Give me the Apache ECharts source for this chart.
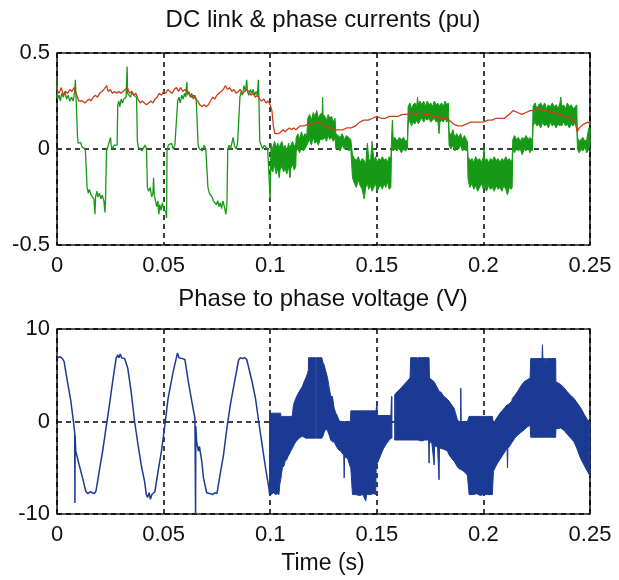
<!DOCTYPE html>
<html>
<head>
<meta charset="utf-8">
<title>DC link & phase currents / phase to phase voltage</title>
<script src="https://cdn.jsdelivr.net/npm/echarts@6/dist/echarts.min.js"></script>
<style>
  html, body { margin: 0; padding: 0; background: #fff; }
  #chart { width: 619px; height: 580px; }
</style>
</head>
<body>
<div id="chart"></div>
<script>
// ---- tick labels ----
const xTickLabels = ['0', '0.05', '0.1', '0.15', '0.2', '0.25'];
const currentTickLabels = ['-0.5', '0', '0.5'];
const voltageTickLabels = ['-10', '0', '10'];

// ---- DC link current (pu), [time s, value] ----
const dcLinkCurrent = [
  [0, 0.31], [0.001, 0.29], [0.002, 0.32], [0.003, 0.28], [0.004, 0.3], [0.005, 0.29], [0.006, 0.31],
  [0.007, 0.3], [0.008, 0.32], [0.009, 0.29], [0.0102, 0.25], [0.011, 0.24], [0.012, 0.25], [0.013, 0.24],
  [0.014, 0.25], [0.015, 0.26], [0.016, 0.25], [0.017, 0.27], [0.018, 0.28], [0.019, 0.27], [0.02, 0.29],
  [0.021, 0.3], [0.022, 0.31], [0.0233, 0.33], [0.024, 0.3], [0.025, 0.31], [0.026, 0.29], [0.027, 0.3],
  [0.028, 0.29], [0.029, 0.3], [0.03, 0.29], [0.031, 0.3], [0.032, 0.31], [0.033, 0.32], [0.034, 0.29],
  [0.035, 0.3], [0.036, 0.28], [0.037, 0.29], [0.038, 0.26], [0.039, 0.24], [0.04, 0.25], [0.041, 0.24],
  [0.042, 0.23], [0.043, 0.24], [0.044, 0.25], [0.045, 0.24], [0.046, 0.26], [0.047, 0.27], [0.048, 0.29],
  [0.049, 0.28], [0.05, 0.3], [0.051, 0.29], [0.052, 0.31], [0.053, 0.3], [0.054, 0.29], [0.055, 0.31],
  [0.056, 0.32], [0.057, 0.3], [0.058, 0.32], [0.059, 0.3], [0.06, 0.31], [0.061, 0.3], [0.062, 0.29],
  [0.063, 0.27], [0.064, 0.28], [0.065, 0.26], [0.066, 0.25], [0.067, 0.23], [0.068, 0.22], [0.069, 0.23],
  [0.07, 0.22], [0.071, 0.23], [0.072, 0.25], [0.073, 0.27], [0.074, 0.26], [0.075, 0.28], [0.076, 0.29],
  [0.077, 0.3], [0.078, 0.31], [0.079, 0.33], [0.08, 0.31], [0.081, 0.32], [0.082, 0.3], [0.083, 0.31],
  [0.084, 0.29], [0.085, 0.3], [0.086, 0.31], [0.087, 0.29], [0.088, 0.3], [0.089, 0.31], [0.09, 0.3],
  [0.091, 0.28], [0.092, 0.29], [0.093, 0.27], [0.094, 0.28], [0.095, 0.26], [0.096, 0.25], [0.097, 0.26],
  [0.098, 0.24], [0.099, 0.25], [0.1, 0.23], [0.1008, 0.2], [0.1015, 0.12], [0.1022, 0.08], [0.103, 0.07],
  [0.104, 0.08], [0.105, 0.09], [0.106, 0.1], [0.107, 0.09], [0.108, 0.1], [0.109, 0.11], [0.11, 0.1],
  [0.111, 0.11], [0.112, 0.1], [0.114, 0.12], [0.116, 0.12], [0.118, 0.13], [0.12, 0.13], [0.122, 0.14],
  [0.124, 0.13], [0.126, 0.12], [0.128, 0.11], [0.13, 0.1], [0.132, 0.1], [0.134, 0.1], [0.136, 0.11],
  [0.138, 0.11], [0.14, 0.12], [0.142, 0.14], [0.144, 0.15], [0.146, 0.15], [0.148, 0.16], [0.15, 0.17],
  [0.152, 0.16], [0.154, 0.16], [0.156, 0.17], [0.158, 0.17], [0.16, 0.17], [0.162, 0.18], [0.164, 0.18],
  [0.166, 0.19], [0.168, 0.18], [0.17, 0.19], [0.172, 0.18], [0.174, 0.18], [0.176, 0.17], [0.178, 0.17],
  [0.18, 0.16], [0.182, 0.16], [0.184, 0.15], [0.186, 0.13], [0.188, 0.12], [0.19, 0.12], [0.192, 0.13],
  [0.194, 0.14], [0.196, 0.14], [0.198, 0.14], [0.2, 0.14], [0.202, 0.15], [0.204, 0.15], [0.206, 0.16],
  [0.208, 0.16], [0.21, 0.16], [0.212, 0.18], [0.214, 0.2], [0.216, 0.19], [0.218, 0.18], [0.22, 0.19],
  [0.222, 0.2], [0.224, 0.2], [0.226, 0.21], [0.228, 0.2], [0.23, 0.2], [0.232, 0.19], [0.234, 0.19],
  [0.236, 0.18], [0.238, 0.17], [0.24, 0.17], [0.242, 0.16], [0.243, 0.14], [0.244, 0.09], [0.245, 0.11],
  [0.247, 0.13], [0.249, 0.14], [0.25, 0.13]
];

// ---- phase current (pu), single trace up to the load step ----
const phaseCurrent = [
  [0, 0.36], [0.0003, 0.26], [0.001, 0.28], [0.0016, 0.25], [0.0022, 0.29], [0.003, 0.27], [0.0037, 0.3],
  [0.0045, 0.26], [0.0052, 0.28], [0.006, 0.25], [0.0068, 0.27], [0.0076, 0.25], [0.0083, 0.3], [0.0086, 0.36],
  [0.0089, 0.28], [0.0094, 0.27],
  [0.0096, 0.07], [0.0099, 0.03], [0.0105, 0.02], [0.011, 0.035], [0.0118, 0.01], [0.0125, 0.02], [0.0133, 0.0], [0.014, 0.01],
  [0.0141, -0.2], [0.0147, -0.23], [0.0152, -0.21], [0.016, -0.24], [0.0167, -0.23], [0.0173, -0.26], [0.0178, -0.34],
  [0.0181, -0.25], [0.0187, -0.22], [0.0192, -0.25], [0.0199, -0.23], [0.0206, -0.26], [0.0212, -0.24], [0.022, -0.27],
  [0.0225, -0.33], [0.0228, -0.25],
  [0.0232, -0.01], [0.0238, 0.01], [0.0244, 0.0], [0.0251, 0.06], [0.0254, 0.02], [0.026, 0.0], [0.0268, 0.02],
  [0.0276, 0.01], [0.0282, 0.02],
  [0.0285, 0.23], [0.029, 0.25], [0.0295, 0.22], [0.0301, 0.26], [0.0307, 0.24], [0.0313, 0.26], [0.0318, 0.25],
  [0.0324, 0.27], [0.0328, 0.28], [0.0329, 0.43], [0.0331, 0.29], [0.0338, 0.3], [0.0345, 0.27], [0.0352, 0.3],
  [0.036, 0.28], [0.0367, 0.29], [0.0373, 0.27],
  [0.0377, 0.04], [0.0382, 0.01], [0.039, 0.02], [0.0398, -0.01], [0.0405, 0.0], [0.0413, 0.02], [0.042, 0.0],
  [0.0424, -0.2], [0.043, -0.22], [0.0437, -0.2], [0.0444, -0.25], [0.045, -0.23], [0.0453, -0.15], [0.0456, -0.24],
  [0.0462, -0.27], [0.0468, -0.3], [0.0473, -0.27], [0.0478, -0.34], [0.0482, -0.29], [0.0488, -0.32], [0.0494, -0.28],
  [0.05, -0.31], [0.0506, -0.3], [0.0511, -0.33], [0.0514, -0.36],
  [0.0516, -0.01], [0.0522, 0.02], [0.053, 0.01], [0.0537, 0.03], [0.0545, 0.0], [0.0553, 0.02], [0.056, 0.01],
  [0.0566, 0.25], [0.0572, 0.27], [0.0578, 0.24], [0.0585, 0.28], [0.0592, 0.26], [0.0598, 0.29], [0.0604, 0.27],
  [0.0609, 0.35], [0.0612, 0.28], [0.0618, 0.3], [0.0625, 0.27], [0.0632, 0.29], [0.0639, 0.26], [0.0646, 0.28],
  [0.0653, 0.26], [0.0659, 0.27],
  [0.0662, 0.02], [0.0668, 0.0], [0.0675, 0.01], [0.0682, -0.01], [0.069, 0.02], [0.0698, 0.0], [0.0705, 0.01],
  [0.0708, -0.2], [0.0714, -0.23], [0.072, -0.22], [0.0727, -0.25], [0.0734, -0.27], [0.074, -0.26], [0.0747, -0.29],
  [0.0754, -0.27], [0.076, -0.3], [0.0766, -0.28], [0.0772, -0.31], [0.0778, -0.27], [0.0785, -0.3], [0.0792, -0.34],
  [0.0797, -0.29],
  [0.0801, 0.0], [0.0807, 0.02], [0.0814, 0.0], [0.082, 0.03], [0.0826, 0.06], [0.0832, 0.02], [0.084, 0.0],
  [0.0847, 0.03], [0.0854, 0.02],
  [0.0858, 0.27], [0.0864, 0.3], [0.087, 0.28], [0.0877, 0.33], [0.0884, 0.3], [0.089, 0.36], [0.0893, 0.3],
  [0.09, 0.28], [0.0907, 0.31], [0.0914, 0.29], [0.092, 0.31], [0.0927, 0.28], [0.0934, 0.3], [0.094, 0.28],
  [0.0944, 0.36], [0.0947, 0.28],
  [0.0951, 0.04], [0.0958, 0.02], [0.0965, 0.0], [0.0972, 0.02], [0.098, 0.01], [0.0988, 0.0], [0.0995, 0.01],
  [0.1, -0.26], [0.1003, -0.05]
];

// ---- phase current after the step: PWM ripple envelope, [time, low, high] ----
const phaseCurrentBand = [
  [0.1003, -0.1, 0.03], [0.1012, -0.12, 0.0], [0.102, -0.08, 0.04], [0.1028, -0.13, 0.01], [0.1036, -0.1, 0.03],
  [0.1042, -0.15, 0.0], [0.1046, -0.11, 0.02], [0.1055, -0.09, 0.04], [0.1063, -0.12, 0.0], [0.107, -0.1, 0.02],
  [0.1078, -0.13, -0.01], [0.1086, -0.09, 0.03], [0.1093, -0.15, 0.0], [0.1097, -0.1, 0.02], [0.1105, -0.08, 0.04],
  [0.1113, -0.11, 0.01], [0.112, -0.09, 0.03],
  [0.1122, -0.01, 0.06], [0.113, 0.0, 0.08], [0.1138, -0.02, 0.05], [0.1146, 0.01, 0.09], [0.1155, -0.01, 0.06],
  [0.1163, 0.0, 0.08], [0.1172, 0.02, 0.07],
  [0.1176, 0.03, 0.16], [0.1185, 0.05, 0.18], [0.1193, 0.02, 0.15], [0.1202, 0.06, 0.19], [0.121, 0.03, 0.17],
  [0.1218, 0.04, 0.2], [0.1226, 0.02, 0.16], [0.1234, 0.05, 0.18], [0.1244, 0.05, 0.19], [0.1246, 0.05, 0.27],
  [0.1248, 0.05, 0.18], [0.1256, 0.06, 0.17], [0.1264, 0.04, 0.15], [0.1272, 0.07, 0.18], [0.128, 0.05, 0.16],
  [0.1288, 0.06, 0.17], [0.1296, 0.04, 0.14], [0.1304, 0.06, 0.16],
  [0.1308, 0.0, 0.08], [0.1318, 0.01, 0.07], [0.1328, -0.01, 0.06], [0.1338, 0.02, 0.08], [0.1348, 0.0, 0.05],
  [0.1358, 0.01, 0.07], [0.1368, -0.01, 0.06], [0.1378, 0.0, 0.05],
  [0.1386, -0.15, -0.03], [0.1395, -0.18, -0.05], [0.1404, -0.2, -0.06], [0.1413, -0.16, -0.04], [0.1422, -0.19, -0.07],
  [0.1431, -0.21, -0.05], [0.1441, -0.26, -0.06], [0.1448, -0.2, -0.08], [0.1456, -0.18, 0.03], [0.1462, -0.21, -0.05],
  [0.147, -0.19, -0.07], [0.1478, -0.22, 0.04], [0.1486, -0.2, -0.06], [0.1494, -0.18, -0.04], [0.1502, -0.22, -0.07],
  [0.151, -0.2, -0.05], [0.1518, -0.19, -0.06], [0.1526, -0.21, -0.04], [0.1534, -0.18, -0.06], [0.1542, -0.2, -0.05],
  [0.155, -0.17, -0.07], [0.1558, -0.21, -0.04], [0.1566, -0.2, -0.05],
  [0.1569, -0.01, 0.05], [0.1573, 0.0, 0.15], [0.1577, -0.01, 0.05], [0.1585, 0.0, 0.06], [0.1595, -0.01, 0.04],
  [0.1605, 0.01, 0.06], [0.1615, -0.02, 0.05], [0.1625, 0.0, 0.06], [0.1635, -0.01, 0.04], [0.1644, 0.0, 0.05],
  [0.1647, 0.13, 0.22], [0.1655, 0.15, 0.24], [0.1663, 0.12, 0.21], [0.1671, 0.14, 0.23], [0.1679, 0.13, 0.24],
  [0.1687, 0.15, 0.22], [0.1691, 0.14, 0.27], [0.1695, 0.13, 0.23], [0.1703, 0.15, 0.25], [0.1711, 0.16, 0.23],
  [0.172, 0.14, 0.25], [0.1728, 0.16, 0.22], [0.1736, 0.15, 0.25], [0.1745, 0.16, 0.23], [0.1753, 0.14, 0.24],
  [0.1761, 0.15, 0.22], [0.177, 0.16, 0.25], [0.1778, 0.14, 0.23], [0.1786, 0.15, 0.24], [0.1792, 0.08, 0.22],
  [0.1796, 0.14, 0.23], [0.1804, 0.15, 0.24], [0.1812, 0.14, 0.22], [0.182, 0.16, 0.25], [0.1828, 0.14, 0.23],
  [0.1836, 0.15, 0.24],
  [0.1839, 0.02, 0.09], [0.1848, 0.0, 0.07], [0.1857, 0.02, 0.1], [0.1866, -0.01, 0.06], [0.1875, 0.01, 0.08],
  [0.1884, 0.0, 0.06], [0.1893, 0.02, 0.08], [0.1902, -0.01, 0.05], [0.1911, 0.0, 0.07], [0.192, -0.01, 0.05],
  [0.1925, 0.0, 0.04],
  [0.1928, -0.16, -0.04], [0.1937, -0.2, -0.06], [0.1946, -0.18, -0.05], [0.1955, -0.21, -0.07], [0.1964, -0.19, -0.04],
  [0.1973, -0.22, -0.06], [0.1982, -0.2, -0.05], [0.1991, -0.18, -0.07], [0.2, -0.21, -0.04], [0.2003, -0.19, 0.0],
  [0.2006, -0.2, -0.06], [0.2015, -0.22, -0.05], [0.2024, -0.19, -0.07], [0.2033, -0.21, -0.05], [0.2042, -0.2, -0.06],
  [0.2051, -0.22, -0.04], [0.206, -0.19, -0.06], [0.2069, -0.21, -0.05], [0.2078, -0.2, -0.07], [0.2087, -0.22, -0.05],
  [0.2096, -0.19, -0.06], [0.2105, -0.21, -0.04], [0.2113, -0.24, -0.06], [0.2121, -0.2, -0.05], [0.213, -0.21, -0.07],
  [0.2135, -0.2, -0.05],
  [0.2138, 0.0, 0.05], [0.2146, -0.02, 0.07], [0.2155, 0.01, 0.05], [0.2164, -0.01, 0.06], [0.2173, 0.0, 0.04],
  [0.2182, -0.03, 0.06], [0.2191, 0.0, 0.05], [0.22, -0.01, 0.07], [0.2209, 0.01, 0.05], [0.2218, -0.02, 0.06],
  [0.2227, 0.0, 0.05], [0.223, -0.01, 0.06],
  [0.2233, 0.12, 0.22], [0.2242, 0.14, 0.24], [0.2251, 0.12, 0.21], [0.226, 0.13, 0.23], [0.2269, 0.11, 0.24],
  [0.2278, 0.14, 0.22], [0.2287, 0.12, 0.24], [0.2296, 0.13, 0.21], [0.2305, 0.11, 0.23], [0.2314, 0.14, 0.22],
  [0.2323, 0.12, 0.24], [0.2332, 0.13, 0.22], [0.2341, 0.11, 0.23], [0.235, 0.13, 0.21], [0.2359, 0.12, 0.24],
  [0.2363, 0.13, 0.27], [0.2367, 0.12, 0.22], [0.2376, 0.14, 0.23], [0.2385, 0.12, 0.21], [0.2394, 0.13, 0.24],
  [0.2403, 0.11, 0.22], [0.2412, 0.13, 0.23], [0.2421, 0.12, 0.21], [0.243, 0.14, 0.22], [0.2438, 0.13, 0.23],
  [0.2441, 0.0, 0.06], [0.2449, -0.02, 0.04], [0.2458, 0.0, 0.05], [0.2467, -0.01, 0.06], [0.2476, 0.01, 0.04],
  [0.2485, -0.02, 0.05], [0.2494, 0.0, 0.11], [0.25, 0.02, 0.11]
];

// ---- phase to phase voltage (V), single trace up to the step ----
const lineVoltage = [
  [0, 6.9], [0.0005, 6.9], [0.0015, 7.0], [0.0025, 6.8], [0.0033, 6.5], [0.0049, 4.3], [0.0065, 2.2], [0.0077, 0],
  [0.0083, -1.2], [0.0084, -8.8], [0.0085, -1.5], [0.0088, -3.2], [0.0104, -4.7], [0.012, -6.1], [0.0135, -7.55],
  [0.0145, -7.8], [0.0155, -7.6], [0.0165, -7.7], [0.0175, -7.8], [0.0183, -7.5],
  [0.0198, -5.4], [0.0214, -3.2], [0.023, -0.7], [0.0246, 1.8], [0.0261, 4.3], [0.0277, 6.8],
  [0.0285, 7.2], [0.029, 6.9], [0.0297, 7.3], [0.0303, 6.9], [0.031, 7.0], [0.0317, 6.8], [0.0324, 6.9],
  [0.0332, 5.75], [0.0348, 3.2], [0.0364, 0], [0.038, -2.5], [0.0395, -4.7], [0.0411, -6.5], [0.0419, -7.9],
  [0.0425, -8.2], [0.0432, -7.7], [0.0438, -8.4], [0.0445, -7.9], [0.0452, -8.1], [0.0459, -7.6], [0.0466, -7.7],
  [0.0474, -5.4], [0.049, -3.2], [0.0506, -0.4], [0.0521, 2.5], [0.0545, 5.4], [0.0565, 7.4],
  [0.0572, 6.9], [0.058, 7.0], [0.0588, 6.8], [0.0595, 6.9], [0.06, 6.7],
  [0.0616, 4.3], [0.0632, 2.2], [0.0647, 0.35], [0.0649, 0.2], [0.065, -10], [0.0651, -0.5], [0.0655, -2.2],
  [0.0663, -3.2], [0.0668, -2.7], [0.0679, -4.3], [0.0687, -6.1], [0.0702, -7.7],
  [0.071, -7.9], [0.072, -7.8], [0.073, -7.9], [0.074, -7.7], [0.075, -7.8],
  [0.0765, -5.75], [0.0781, -3.6], [0.0797, -0.7], [0.0813, 1.8], [0.0836, 4.7], [0.0852, 6.65],
  [0.086, 6.9], [0.087, 6.8], [0.088, 6.9], [0.089, 6.7],
  [0.0915, 4.3], [0.0931, 2.5], [0.0946, 0], [0.0962, -2.5], [0.0978, -5.0], [0.0994, -7.2], [0.0997, -7.9]
];

// ---- phase to phase voltage after the step: PWM envelope, [time, low, high]; null = gap ----
const lineVoltageBand = [
  [0.0997, -7.9, 0.9], [0.1005, -7.9, 0.9], [0.1015, -7.7, 0.9], [0.1025, -7.9, 0.9], [0.1035, -7.8, 0.9],
  [0.1041, -7.9, 0.9], [0.1045, -6.8, 0.9], [0.1049, -6.3, 0.9], [0.105, -6.2, 0.55], [0.1057, -5.0, 0.55],
  [0.1065, -4.8, 0.55], [0.107, -4.3, 0.55], [0.1078, -4.1, 0.55], [0.1083, -3.8, 0.55], [0.1088, -3.6, 0.55],
  [0.1096, -3.2, 0.55], [0.1104, -2.9, 0.6], [0.1108, -2.7, 1.6], [0.1112, -2.5, 2.0], [0.112, -2.2, 2.5],
  [0.1128, -2.0, 2.9], [0.1135, -1.8, 3.2], [0.1143, -1.7, 3.5], [0.1151, -1.6, 3.8], [0.1159, -1.7, 4.3],
  [0.1167, -1.8, 4.7], [0.1175, -1.8, 5.2], [0.1179, -1.8, 5.6], [0.118, -1.8, 6.9], [0.119, -1.8, 6.9],
  [0.12, -1.8, 6.9], [0.1212, -1.8, 6.9],
  null,
  [0.1216, -1.8, 6.9], [0.123, -1.8, 6.9], [0.1242, -1.8, 6.9], [0.1247, -1.6, 6.4], [0.1253, -1.2, 6.1],
  [0.1261, -0.8, 5.4], [0.1269, -1.0, 4.7], [0.1277, -1.5, 3.6], [0.1284, -2.0, 2.7], [0.1292, -2.2, 2.7],
  [0.13, -2.2, 1.4], [0.1308, -2.6, 0.9], [0.1316, -2.9, 0.55], [0.1323, -3.1, 0.1], [0.1331, -3.2, 0.0],
  [0.1339, -3.5, 0.0], [0.1345, -3.6, 0.0], [0.1347, -6.1, 0.0], [0.1349, -3.8, 0.0], [0.1355, -3.9, 0.0],
  [0.1363, -4.0, 0.0], [0.137, -4.5, 0.0], [0.1377, -5.0, 0.0], [0.1378, -5.0, 1.15], [0.1386, -7.9, 1.15],
  [0.14, -7.9, 1.15], [0.142, -8.0, 1.15], [0.1435, -7.9, 1.15], [0.1448, -8.6, 1.15], [0.1452, -7.9, 1.15],
  [0.147, -7.9, 1.15], [0.1485, -7.8, 1.15], [0.1495, -7.9, 1.15], [0.1497, -4.7, 1.15], [0.15, -4.6, 2.2],
  [0.1503, -4.5, 0.65], [0.1519, -3.6, 0.65], [0.153, -3.0, 0.65], [0.1542, -2.5, 0.65], [0.1555, -2.1, 0.65],
  [0.1566, -1.8, 0.65], [0.1569, -1.8, 2.7], [0.1571, -1.8, 2.7],
  null,
  [0.1584, -2.0, 2.9], [0.1595, -2.0, 3.2], [0.1605, -2.0, 3.4], [0.1617, -2.0, 3.7], [0.1628, -2.0, 4.0],
  [0.164, -2.0, 4.3], [0.1656, -2.0, 4.7], [0.1659, -2.0, 6.9], [0.1675, -2.0, 6.9], [0.1689, -2.0, 6.9],
  [0.1691, -2.0, 6.5], [0.1693, -2.0, 6.9], [0.171, -2.1, 6.9], [0.1725, -2.0, 6.9], [0.1743, -2.0, 6.9],
  [0.1745, -4.5, 6.9], [0.1747, -2.2, 4.7], [0.1758, -2.3, 4.5], [0.1769, -4.7, 4.3], [0.1771, -2.6, 4.2],
  [0.1785, -2.8, 3.6], [0.1792, -6.3, 3.3], [0.1794, -2.9, 3.2], [0.18, -2.9, 3.2], [0.1815, -3.0, 2.7],
  [0.1831, -3.2, 2.4], [0.1839, -3.6, 2.2], [0.1851, -4.0, 1.8], [0.1863, -4.3, 1.4], [0.1878, -4.9, 0.2],
  [0.1886, -5.1, 0.0], [0.1893, -5.2, 0.0], [0.1894, -5.2, 3.6], [0.1896, -5.2, 0.0], [0.1909, -5.4, 0.0],
  [0.1925, -5.8, 0.0], [0.1933, -7.9, 0.55], [0.195, -7.9, 0.55], [0.197, -7.8, 0.55], [0.1985, -8.0, 0.55],
  [0.2, -7.9, 0.55], [0.202, -7.9, 0.55], [0.2042, -7.9, 0.55], [0.2047, -5.4, -0.2], [0.2055, -5.0, 0.1],
  [0.2066, -4.5, 0.5], [0.2081, -4.0, 1.0], [0.2089, -3.7, 1.2], [0.21, -3.3, 1.5], [0.2111, -2.9, 1.8],
  [0.2113, -5.0, 1.8], [0.2115, -2.9, 1.8], [0.2125, -2.6, 2.0], [0.2133, -2.3, 2.2], [0.2136, -2.2, 2.5],
  [0.2147, -1.8, 2.8], [0.2159, -1.5, 3.2], [0.2175, -1.2, 3.8], [0.2191, -0.9, 4.3], [0.2205, -0.6, 4.5],
  [0.2219, -0.4, 4.7], [0.2222, -1.7, 6.8], [0.225, -1.7, 6.8], [0.2275, -1.7, 6.8], [0.2277, -1.7, 8.3],
  [0.2279, -1.7, 6.8], [0.2292, -1.7, 6.8], [0.2294, -1.7, 6.0], [0.2296, -1.7, 6.8], [0.232, -1.7, 6.8],
  [0.2339, -1.7, 6.8], [0.234, -0.8, 4.3], [0.2363, -0.7, 4.0], [0.238, -1.0, 3.6], [0.2394, -1.4, 3.2],
  [0.241, -1.8, 2.8], [0.2425, -2.2, 2.5], [0.244, -3.0, 2.0], [0.2456, -4.0, 1.5], [0.2472, -4.7, 0.8],
  [0.2488, -5.4, 0.2], [0.25, -5.9, 0.0]
];

// ---- styling ----
const FONT = '"Liberation Sans", Arial, Helvetica, sans-serif';
const TICK_FS = 22;
const TITLE_FS = 24;
const LABEL_FS = 23;
const GREEN = '#169a16';
const RED = '#c9401c';
const BLUE = '#1b3a93';
const GRID_DASH = { color: '#000', type: [5, 4], width: 1.5 };

// Filled envelope between low/high rows, drawn in axis coordinates.
function bandSeries(rows, axisIndex, color, z) {
  return {
    type: 'custom',
    coordinateSystem: 'cartesian2d',
    xAxisIndex: axisIndex,
    yAxisIndex: axisIndex,
    silent: true,
    z: z,
    data: [[rows[0][0], rows[0][1]]],
    renderItem: function (params, api) {
      const children = [];
      let seg = [];
      const flush = function () {
        if (seg.length > 1) {
          const upper = seg.map(r => api.coord([r[0], r[2]]));
          const lower = seg.slice().reverse().map(r => api.coord([r[0], r[1]]));
          children.push({
            type: 'polygon',
            shape: { points: upper.concat(lower) },
            style: { fill: color, stroke: color, lineWidth: 1 }
          });
        }
        seg = [];
      };
      rows.forEach(r => { if (r === null) flush(); else seg.push(r); });
      flush();
      return { type: 'group', children: children };
    }
  };
}

function xAxisFor(gridIndex) {
  return {
    type: 'value', gridIndex: gridIndex, min: 0, max: 0.25, interval: 0.05,
    axisLine: { show: false }, axisTick: { show: false },
    axisLabel: {
      fontFamily: FONT, fontSize: TICK_FS, color: '#111', margin: 10,
      showMinLabel: true, showMaxLabel: true,
      formatter: v => xTickLabels[Math.round(v / 0.05)]
    },
    splitLine: { show: true, lineStyle: GRID_DASH }
  };
}

function yAxisFor(gridIndex, min, max, interval, labels) {
  return {
    type: 'value', gridIndex: gridIndex, min: min, max: max, interval: interval,
    axisLine: { show: false }, axisTick: { show: false },
    axisLabel: {
      fontFamily: FONT, fontSize: TICK_FS, color: '#111', margin: 7,
      showMinLabel: true, showMaxLabel: true,
      formatter: v => labels[Math.round((v - min) / interval)]
    },
    splitLine: { show: true, lineStyle: GRID_DASH }
  };
}

const chart = echarts.init(document.getElementById('chart'), null, { renderer: 'canvas' });

chart.setOption({
  animation: false,
  backgroundColor: '#fff',
  title: [
    { text: 'DC link & phase currents (pu)', left: 323, top: 8, textAlign: 'center', padding: 0,
      textStyle: { fontFamily: FONT, fontSize: TITLE_FS, fontWeight: 'normal', color: '#111' } },
    { text: 'Phase to phase voltage (V)', left: 323, top: 287, textAlign: 'center', padding: 0,
      textStyle: { fontFamily: FONT, fontSize: TITLE_FS, fontWeight: 'normal', color: '#111' } },
    { text: 'Time (s)', left: 323, top: 552, textAlign: 'center', padding: 0,
      textStyle: { fontFamily: FONT, fontSize: LABEL_FS, fontWeight: 'normal', color: '#111' } }
  ],
  grid: [
    { left: 57, top: 53, width: 533, height: 192, show: true, borderColor: '#222', borderWidth: 1.6, backgroundColor: '#fff' },
    { left: 57, top: 329, width: 533, height: 185, show: true, borderColor: '#222', borderWidth: 1.6, backgroundColor: '#fff' }
  ],
  xAxis: [xAxisFor(0), xAxisFor(1)],
  yAxis: [
    yAxisFor(0, -0.5, 0.5, 0.5, currentTickLabels),
    yAxisFor(1, -10, 10, 10, voltageTickLabels)
  ],
  series: [
    {
      name: 'Phase current', type: 'line', xAxisIndex: 0, yAxisIndex: 0, data: phaseCurrent,
      showSymbol: false, symbol: 'none', z: 3, lineStyle: { color: GREEN, width: 1.3 }
    },
    bandSeries(phaseCurrentBand, 0, GREEN, 3),
    {
      name: 'DC link current', type: 'line', xAxisIndex: 0, yAxisIndex: 0, data: dcLinkCurrent,
      showSymbol: false, symbol: 'none', z: 4, lineStyle: { color: RED, width: 1.3 }
    },
    {
      name: 'Phase to phase voltage', type: 'line', xAxisIndex: 1, yAxisIndex: 1, data: lineVoltage,
      showSymbol: false, symbol: 'none', z: 3, lineStyle: { color: BLUE, width: 1.5 }
    },
    bandSeries(lineVoltageBand, 1, BLUE, 3)
  ]
});
</script>
</body>
</html>
